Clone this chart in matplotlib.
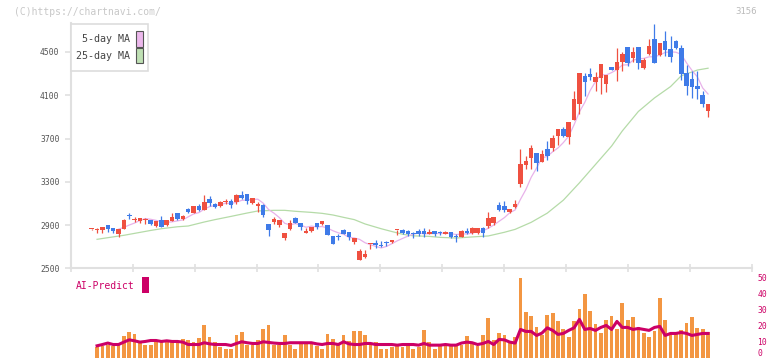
import matplotlib
matplotlib.use("Agg")
import matplotlib.pyplot as plt
import numpy as np
import pandas as pd
from matplotlib.patches import Rectangle
from matplotlib.transforms import blended_transform_factory

W, H = 772, 361

# daily candles (first one is the lone doji at the left edge)
opens = [2859, 2858, 2854, 2900, 2870, 2817, 2863, 2988, 2950, 2940,
         2945, 2943, 2894, 2947, 2900, 2937, 3011, 2953, 3048, 3011,
         3076, 3039, 3141, 3094, 3076, 3115, 3122, 3113, 3178, 3187,
         3104, 3079, 3085, 2913, 2928, 2900, 2783, 2863, 2965, 2919,
         2829, 2845, 2919, 2910, 2900, 2799, 2796, 2854, 2836, 2743,
         2577, 2604, 2722, 2734, 2712, 2734, 2743, 2854, 2857, 2848,
         2820, 2848, 2848, 2817, 2845, 2827, 2820, 2836, 2795, 2789,
         2848, 2823, 2826, 2870, 2894, 2919, 3085, 3076, 3021, 3070,
         3283, 3455, 3520, 3566, 3483, 3603, 3612, 3723, 3788, 3714,
         3871, 4022, 4278, 4296, 4222, 4259, 4204, 4361, 4333, 4407,
         4546, 4444, 4546, 4352, 4481, 4620, 4472, 4602, 4528, 4602,
         4537, 4306, 4250, 4186, 4102, 3954]
highs = [2862, 2873, 2885, 2900, 2870, 2860, 2953, 3014, 2974, 2965,
         2965, 2943, 2940, 2984, 2950, 3011, 3011, 2990, 3055, 3076,
         3094, 3178, 3168, 3100, 3125, 3141, 3144, 3187, 3215, 3187,
         3150, 3113, 3094, 2913, 2974, 2947, 2829, 2947, 2974, 2919,
         2873, 2882, 2919, 2937, 2900, 2799, 2817, 2860, 2836, 2783,
         2678, 2669, 2725, 2762, 2752, 2752, 2758, 2857, 2866, 2857,
         2839, 2866, 2873, 2863, 2845, 2845, 2845, 2836, 2817, 2857,
         2876, 2879, 2876, 2879, 3021, 2974, 3113, 3122, 3048, 3132,
         3603, 3538, 3640, 3566, 3594, 3677, 3733, 3788, 3806, 3853,
         4139, 4306, 4306, 4355, 4315, 4389, 4287, 4361, 4537, 4500,
         4546, 4546, 4546, 4444, 4620, 4759, 4583, 4694, 4648, 4611,
         4565, 4380, 4324, 4324, 4139, 4019]
lows = [2858, 2823, 2829, 2839, 2830, 2792, 2863, 2959, 2928, 2916,
        2910, 2900, 2885, 2882, 2895, 2935, 2945, 2945, 3015, 3011,
        3030, 3039, 3076, 3060, 3064, 3094, 3058, 3094, 3141, 3094,
        3094, 3020, 2971, 2802, 2913, 2882, 2762, 2854, 2919, 2854,
        2829, 2835, 2866, 2900, 2808, 2728, 2762, 2817, 2765, 2725,
        2577, 2595, 2681, 2691, 2697, 2709, 2734, 2808, 2817, 2802,
        2783, 2799, 2789, 2817, 2802, 2808, 2820, 2783, 2746, 2789,
        2817, 2817, 2820, 2793, 2870, 2903, 3033, 3024, 3011, 3054,
        3255, 3418, 3418, 3400, 3483, 3501, 3585, 3640, 3714, 3649,
        3871, 3927, 4093, 4241, 4139, 4112, 4130, 4333, 4232, 4324,
        4370, 4407, 4343, 4343, 4472, 4398, 4463, 4463, 4407, 4528,
        4241, 4102, 4074, 4065, 3991, 3899]
closes = [2861, 2862, 2879, 2863, 2845, 2860, 2947, 2985, 2955, 2965,
          2948, 2913, 2937, 2882, 2943, 2974, 2956, 2984, 3021, 3076,
          3039, 3113, 3104, 3067, 3110, 3119, 3085, 3178, 3150, 3122,
          3150, 3094, 2996, 2854, 2956, 2947, 2829, 2919, 2919, 2882,
          2848, 2882, 2882, 2937, 2808, 2728, 2786, 2817, 2789, 2783,
          2660, 2632, 2725, 2715, 2709, 2730, 2758, 2857, 2826, 2817,
          2817, 2817, 2817, 2836, 2817, 2826, 2836, 2789, 2792, 2845,
          2827, 2870, 2870, 2823, 2962, 2974, 3042, 3042, 3048, 3091,
          3464, 3492, 3612, 3474, 3557, 3538, 3705, 3788, 3723, 3853,
          4065, 4306, 4223, 4269, 4269, 4389, 4287, 4333, 4407, 4481,
          4398, 4500, 4398, 4426, 4555, 4398, 4583, 4518, 4454, 4537,
          4296, 4186, 4176, 4158, 4019, 4019]

volume = [np.nan,
          6.25, 7.1, 7.5, 7.1, 8.1, 13.3, 15.6, 14.4, 9, 8.1,
          8.1, 9.8, 9.8, 9.8, 9.8, 9.8, 11.3, 10.6, 9.4, 11.9,
          20, 12.5, 9.8, 6.25, 5.6, 5.6, 13.75, 15.6, 8.1, 8.1,
          10.6, 17.5, 20, 8.1, 8.1, 13.75, 8.1, 5.6, 8.75, 8.75,
          8.75, 6.9, 5, 14.4, 11.25, 7.5, 13.75, 10, 16.25, 16.25,
          13.75, 8.1, 9.4, 5, 5.6,
          6.25, 7.3, 6.25, 7.3, 5.6, 6.7, 16.9, 9.8, 5, 8.5,
          7.9, 6.9, 6.9, 7.9, 13.1, 9.8, 6.9, 13.75, 24.4, 10.6,
          15, 13.75, 9.8, 12.5, 49.4, 28.1, 25.6, 18.75, 13.75, 26.25,
          27.5, 22.5, 17.5, 12.5, 22.5, 30, 39.4, 28.75, 20.6, 15,
          23.1, 25.6, 17.5, 33.75, 23.1, 25, 18.75, 15, 12.5, 16.25,
          36.9, 23.1, 13.75, 15.6, 16.9, 21.25, 25, 18.1, 17.5, 15.6]
ai_predict = [np.nan,
              7.3, 8.1, 9, 8.1, 8.1, 9.6, 11, 10.4, 9.6, 10,
              10.6, 10.6, 10, 10.4, 10, 10, 9.6, 8.1, 8.1, 8.1,
              9.2, 8.5, 8.1, 8.1, 8.1, 7.5, 8.75, 9.8, 9.2, 8.75,
              8.75, 9.8, 9.4, 9, 8.75, 8.75, 9.2, 9.2, 9.2, 9.2,
              9.2, 8.5, 8.1, 8.75, 8.75, 8.1, 9.8, 8.5, 8.1, 8.1,
              8.75, 8.75, 8.1, 8.1, 8.1,
              8.1, 7.7, 8.1, 8.1, 8.1, 7.7, 8.75, 7.7, 7.7, 7.7,
              8.1, 7.7, 7.7, 9, 9.6, 9.2, 8.1, 8.75, 10, 8.1,
              11.25, 11, 9.6, 9, 17.5, 16.25, 16.25, 13.75, 15.2, 18.5,
              16.9, 14.4, 15, 16.9, 18.5, 23.75, 17.5, 18.1, 16.9, 18.75,
              20, 17.5, 22.5, 18.75, 18.75, 17.5, 18.1, 17.5, 16.9, 18.75,
              19.4, 13.75, 15, 15, 15.6, 15, 13.75, 14.4, 15, 15]

# 25-day MA
ma25_idx = [1, 3, 6, 8, 11, 13, 16, 18, 21, 23, 26, 29, 31, 34, 36, 38, 41, 43,
            45, 47, 49, 51, 54, 56, 58, 60, 63, 65, 68, 71, 74, 77, 79, 82, 85,
            88, 91, 94, 97, 99, 102, 105, 108, 110, 113, 115]
ma25_val = [2768, 2783, 2805, 2823, 2850, 2866, 2884, 2891, 2928, 2950, 2980,
            3011, 3030, 3036, 3036, 3027, 3017, 3008, 2993, 2971, 2950, 2910,
            2866, 2840, 2815, 2800, 2795, 2786, 2780, 2790, 2799, 2833, 2860,
            2925, 3010, 3130, 3290, 3460, 3630, 3770, 3950, 4075, 4180, 4280,
            4333, 4350]

date_idx = [15, 25, 35, 45, 55, 65, 75, 85, 95, 105, 115]
date_labels = ["2/4", "2/19", "3/6", "3/23", "4/6", "4/20", "5/8", "5/22",
               "6/5", "6/19", "7/3"]
price_ticks = [2500, 2900, 3300, 3700, 4100, 4500]
vol_ticks = [0, 10, 20, 30, 40, 50]

plt.rcParams['font.family'] = ['DejaVu Sans Mono']

UP = '#ef5040'
DOWN = '#3f7be8'
MAGENTA = '#cc0066'
GRID = '#e0e0e0'


def fx(x):
    return x / W


def fy(y):
    return 1 - y / H


fig = plt.figure(figsize=(W / 100, H / 100), dpi=100)

left, right = 70.7, 752
ax = fig.add_axes([fx(left), fy(268.3), fx(right - left), (268.3 - 23) / H])
ax2 = fig.add_axes([fx(left), fy(357.5), fx(right - left), (357.5 - 277.3) / H])

x = np.arange(len(closes))
o = np.array(opens, float)
c = np.array(closes, float)
hi = np.array(highs, float)
lo = np.array(lows, float)
cols = [UP if cc >= oo else DOWN for oo, cc in zip(o, c)]

# moving averages
ma5 = pd.Series(c).rolling(5).mean()
ma5[:5] = np.nan
ax.plot(ma25_idx, ma25_val, color='#b5dba8', lw=0.9, zorder=1)
ax.plot(x, ma5, color='#e8b2ea', lw=0.9, zorder=1)

# candles
ax.vlines(x, lo, hi, colors=cols, lw=0.9, zorder=2)
body = np.maximum(np.abs(c - o), 9)
ax.bar(x, body, bottom=np.minimum(o, c), width=0.85, color=cols, zorder=3)

xmin, xmax = -3.92, 123.2
ax.set_xlim(xmin, xmax)
ax.set_ylim(2500, 4768)
for s in ['top', 'right']:
    ax.spines[s].set_visible(False)
for s in ['left', 'bottom']:
    ax.spines[s].set_color(GRID)
    ax.spines[s].set_linewidth(1.5)
ax.set_yticks(price_ticks)
ax.set_yticklabels([str(t) for t in price_ticks])
ax.tick_params(axis='y', direction='out', length=4, width=1.2, color=GRID,
               labelsize=5.8, labelcolor='#555555', pad=4)
ax.set_xticks([xmin + (xmax - xmin) * n / 11 for n in range(12)])
ax.set_xticklabels([])
ax.tick_params(axis='x', direction='inout', length=6, width=1.2, color=GRID)

# volume + AI-Predict
ax2.bar(x, volume, width=0.7, color='#f39642', zorder=1)
ax2.plot(x, ai_predict, color=MAGENTA, lw=2.2, zorder=2)
ax2.set_xlim(xmin, xmax)
ax2.set_ylim(0, 50)
for s in ax2.spines.values():
    s.set_visible(False)
ax2.set_xticks([])
ax2.yaxis.tick_right()
ax2.set_yticks(vol_ticks)
ax2.set_yticklabels([str(t) for t in vol_ticks])
ax2.tick_params(axis='y', length=0, pad=4, labelsize=5.8, labelcolor=MAGENTA)
ax2.get_yticklabels()[0].set_va('bottom')

# date labels between the panels
tr = blended_transform_factory(ax.transData, fig.transFigure)
for i, lab in zip(date_idx, date_labels):
    ax.text(i - 0.35, fy(282), lab, transform=tr, ha='center', va='center',
            fontsize=5.8, color='#555555')

# legend box
fig.patches.append(Rectangle((fx(70.7), fy(71)), fx(148.3 - 70.7), (71 - 24.3) / H,
                             transform=fig.transFigure, facecolor='white',
                             edgecolor='#dddddd', lw=1.2, zorder=5))
fig.text(fx(129.5), fy(39.5), "5-day MA", ha='right', va='center',
         fontsize=7.2, color='#444444', zorder=6)
fig.text(fx(129.5), fy(56), "25-day MA", ha='right', va='center',
         fontsize=7.2, color='#444444', zorder=6)
fig.patches.append(Rectangle((fx(136.3), fy(46.5)), fx(6.3), 15 / H,
                             transform=fig.transFigure, facecolor='#ecb8ec',
                             edgecolor='#555555', lw=0.8, zorder=6))
fig.patches.append(Rectangle((fx(136.3), fy(63.2)), fx(6.3), 15 / H,
                             transform=fig.transFigure, facecolor='#bfe0b4',
                             edgecolor='#555555', lw=0.8, zorder=6))

# AI-Predict label
fig.text(fx(76), fy(286), "AI-Predict", ha='left', va='center',
         fontsize=7, color=MAGENTA)
fig.patches.append(Rectangle((fx(141.7), fy(292.7)), fx(7.3), 16 / H,
                             transform=fig.transFigure, facecolor=MAGENTA,
                             edgecolor='none'))

# watermark and code
fig.text(fx(14), fy(12), "(C)https://chartnavi.com/", ha='left', va='center',
         fontsize=7, color='#c8c8c8')
fig.text(fx(757), fy(12), "3156", ha='right', va='center',
         fontsize=6.5, color='#bbbbbb')

fig.savefig("out.png", dpi=100)
